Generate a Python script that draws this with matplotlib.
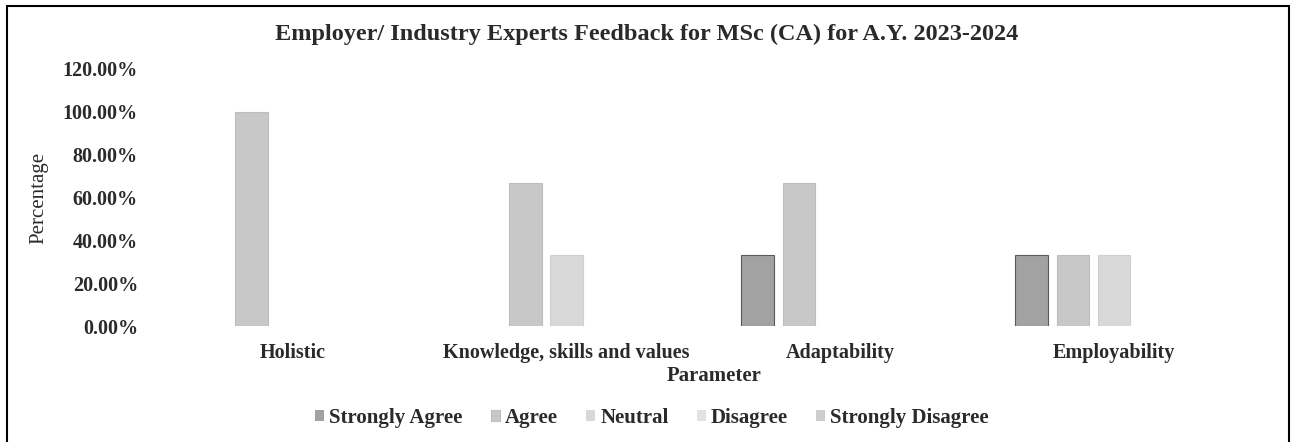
import matplotlib.pyplot as plt
import numpy as np
from matplotlib.patches import Rectangle

categories = ['Holistic', 'Knowledge, skills and values', 'Adaptability', 'Employability']
series = ['Strongly Agree', 'Agree', 'Neutral', 'Disagree', 'Strongly Disagree']
strongly_agree = [0.0, 0.0, 0.3333, 0.3333]
agree = [1.0, 0.6667, 0.6667, 0.3333]
neutral = [0.0, 0.3333, 0.0, 0.3333]
disagree = [0.0, 0.0, 0.0, 0.0]
strongly_disagree = [0.0, 0.0, 0.0, 0.0]
yticks = [0, 0.2, 0.4, 0.6, 0.8, 1.0, 1.2]

colors = ['#a2a2a2', '#c8c8c8', '#d8d8d8', '#e2e2e2', '#cdcdcd']
edges = ['#5a5a5a', '#bdbdbd', '#d0d0d0', '#dadada', '#c0c0c0']

plt.rcParams['font.family'] = ['Liberation Serif', 'DejaVu Serif']

fig = plt.figure(figsize=(12.92, 4.42), dpi=100)
ax = fig.add_axes([156/1292, 1 - 326/442, (1251 - 156)/1292, (326 - 69)/442])

x = np.arange(len(categories))
step = 0.151
width = 0.119
data = [strongly_agree, agree, neutral, disagree, strongly_disagree]
for j, (name, vals) in enumerate(zip(series, data)):
    lw = [0.8 if v > 0 else 0 for v in vals]
    ax.bar(x + (j - 2)*step, vals, width, color=colors[j], edgecolor=edges[j],
           linewidth=lw, label=name)

ax.set_xlim(-0.5, 3.5)
ax.set_ylim(0, 1.2)
ax.set_yticks(yticks)
ax.set_yticklabels([f'{v*100:.2f}%' for v in yticks], fontsize=14.5,
                   fontweight='bold', color='#2a2a2a')
ax.set_xticks(x)
ax.set_xticklabels(categories, fontsize=14.5, fontweight='bold', color='#2a2a2a')
ax.tick_params(axis='y', length=0, pad=13)
ax.tick_params(axis='x', length=0, pad=12)
for s in ax.spines.values():
    s.set_visible(False)

ax.set_ylabel('Percentage', fontsize=15, color='#2a2a2a')
ax.yaxis.set_label_coords(-0.098, 0.5)
ax.set_xlabel('Parameter', fontsize=15, fontweight='bold', color='#2a2a2a')
ax.xaxis.set_label_coords(0.51, -0.155)

fig.text(647/1292, 1 - 34/442, 'Employer/ Industry Experts Feedback for MSc (CA) for A.Y. 2023-2024',
         ha='center', va='center', fontsize=17.5, fontweight='bold', color='#2a2a2a')

leg = fig.legend(loc='center', bbox_to_anchor=(652/1292, 1 - 418/442), ncol=5,
                 frameon=False, fontsize=15, handlelength=0.43, handleheight=0.43,
                 handletextpad=0.25, columnspacing=1.35)
for t in leg.get_texts():
    t.set_fontweight('bold')
    t.set_color('#2a2a2a')

fig.patches.append(Rectangle((7/1292, -0.02), (1289 - 7)/1292, 1 - 6/442 + 0.02,
                             transform=fig.transFigure, fill=False,
                             edgecolor='black', linewidth=1.5))

fig.savefig('out.png', dpi=100)
